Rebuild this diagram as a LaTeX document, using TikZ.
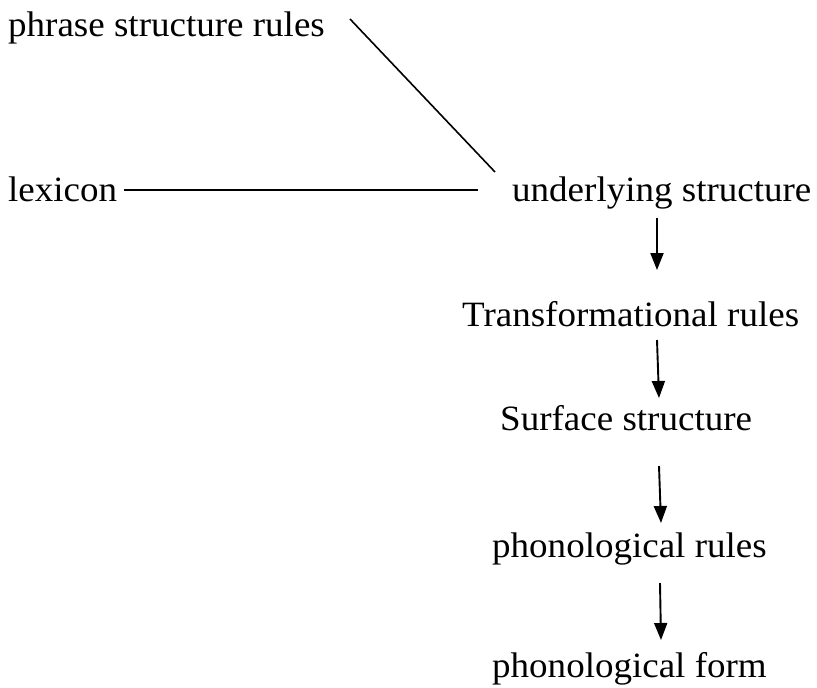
\documentclass[tikz,border=0pt]{standalone}
\usepackage{fontspec}
\setmainfont[FakeStretch=1.04]{Liberation Serif}
\usetikzlibrary{arrows.meta}
\begin{document}
\begin{tikzpicture}[x=1pt,y=-1pt,
  lbl/.style={anchor=base west,inner sep=0pt,font=\fontsize{35.6}{40}\selectfont},
  link/.style={line width=1.6pt},
  flow/.style={line width=1.9pt,-{Triangle[width=13pt,length=17pt]}}]
\useasboundingbox (0,0) rectangle (817,688);
% labels
\node[lbl] (psr) at (8,36)   {phrase structure rules};
\node[lbl] (lex) at (8,201)  {lexicon};
\node[lbl] (us)  at (512,201) {underlying structure};
\node[lbl] (tr)  at (462,326) {Transformational rules};
\node[lbl] (ss)  at (500,430) {Surface structure};
\node[lbl] (pr)  at (492,557) {phonological rules};
\node[lbl] (pf)  at (492,677) {phonological form};
% inputs to the base
\draw[link] ([shift={(342,-17)}]psr.base west) -- ([shift={(-17,-29)}]us.base west);
\draw[link] ([shift={(116,-11)}]lex.base west) -- ([shift={(-34,-11)}]us.base west);
% derivation
\draw[flow] ([shift={(145,17)}]us.base west) -- ([shift={(195,-56)}]tr.base west);
\draw[flow] ([shift={(195,14)}]tr.base west) -- ([shift={(159,-32)}]ss.base west);
\draw[flow] ([shift={(159,36)}]ss.base west) -- ([shift={(169,-34)}]pr.base west);
\draw[flow] ([shift={(168,26)}]pr.base west) -- ([shift={(169,-37)}]pf.base west);
\end{tikzpicture}
\end{document}
